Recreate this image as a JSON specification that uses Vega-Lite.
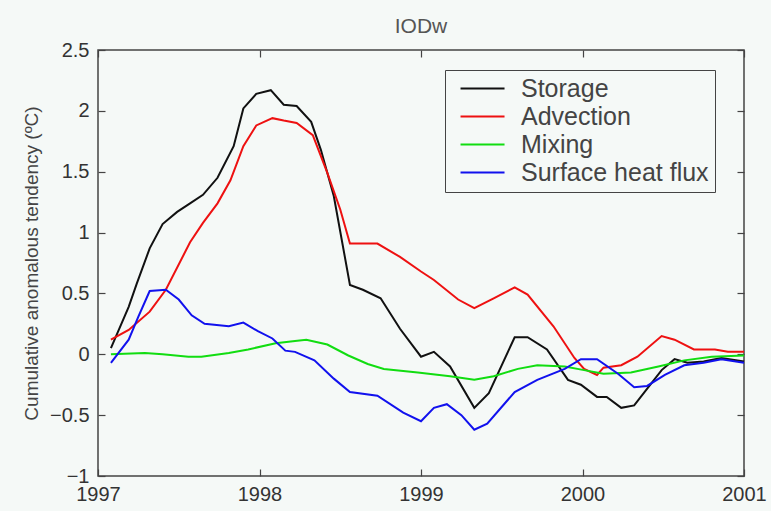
{
  "$schema": "https://vega.github.io/schema/vega-lite/v6.json",
  "width": 646,
  "height": 426,
  "autosize": "none",
  "padding": {"left": 98, "top": 50, "right": 27, "bottom": 35},
  "background": "#f5f9f7",
  "title": {"text": "IODw", "fontSize": 21, "font": "Liberation Sans", "fontWeight": "normal", "color": "#555", "offset": 3},
  "config": {
    "view": {"stroke": "#444", "strokeWidth": 1.5},
    "axis": {"domain": false, "grid": false, "labelFont": "Liberation Sans", "titleFont": "Liberation Sans", "labelColor": "#333", "titleColor": "#444", "tickColor": "#444", "tickWidth": 1.2, "labelFlush": false}
  },
  "data": {"values": [
    {"series": "Storage", "t": 1997.08, "v": 0.05},
    {"series": "Storage", "t": 1997.19, "v": 0.39},
    {"series": "Storage", "t": 1997.24, "v": 0.58},
    {"series": "Storage", "t": 1997.32, "v": 0.87},
    {"series": "Storage", "t": 1997.40, "v": 1.07},
    {"series": "Storage", "t": 1997.49, "v": 1.17},
    {"series": "Storage", "t": 1997.57, "v": 1.24},
    {"series": "Storage", "t": 1997.65, "v": 1.31},
    {"series": "Storage", "t": 1997.74, "v": 1.45},
    {"series": "Storage", "t": 1997.84, "v": 1.71},
    {"series": "Storage", "t": 1997.90, "v": 2.02},
    {"series": "Storage", "t": 1997.98, "v": 2.14},
    {"series": "Storage", "t": 1998.07, "v": 2.17},
    {"series": "Storage", "t": 1998.15, "v": 2.05},
    {"series": "Storage", "t": 1998.23, "v": 2.04},
    {"series": "Storage", "t": 1998.32, "v": 1.91},
    {"series": "Storage", "t": 1998.38, "v": 1.68},
    {"series": "Storage", "t": 1998.46, "v": 1.30},
    {"series": "Storage", "t": 1998.56, "v": 0.57},
    {"series": "Storage", "t": 1998.64, "v": 0.53},
    {"series": "Storage", "t": 1998.75, "v": 0.46},
    {"series": "Storage", "t": 1998.87, "v": 0.21},
    {"series": "Storage", "t": 1999.00, "v": -0.02},
    {"series": "Storage", "t": 1999.08, "v": 0.02},
    {"series": "Storage", "t": 1999.18, "v": -0.10},
    {"series": "Storage", "t": 1999.33, "v": -0.44},
    {"series": "Storage", "t": 1999.42, "v": -0.32},
    {"series": "Storage", "t": 1999.58, "v": 0.14},
    {"series": "Storage", "t": 1999.66, "v": 0.14},
    {"series": "Storage", "t": 1999.78, "v": 0.04},
    {"series": "Storage", "t": 1999.91, "v": -0.21},
    {"series": "Storage", "t": 1999.99, "v": -0.25},
    {"series": "Storage", "t": 2000.09, "v": -0.35},
    {"series": "Storage", "t": 2000.15, "v": -0.35},
    {"series": "Storage", "t": 2000.24, "v": -0.44},
    {"series": "Storage", "t": 2000.32, "v": -0.42},
    {"series": "Storage", "t": 2000.42, "v": -0.25},
    {"series": "Storage", "t": 2000.49, "v": -0.13},
    {"series": "Storage", "t": 2000.57, "v": -0.04},
    {"series": "Storage", "t": 2000.65, "v": -0.07},
    {"series": "Storage", "t": 2000.75, "v": -0.06},
    {"series": "Storage", "t": 2000.86, "v": -0.03},
    {"series": "Storage", "t": 2001.00, "v": -0.06},
    {"series": "Advection", "t": 1997.08, "v": 0.12},
    {"series": "Advection", "t": 1997.19, "v": 0.20},
    {"series": "Advection", "t": 1997.32, "v": 0.35},
    {"series": "Advection", "t": 1997.42, "v": 0.53},
    {"series": "Advection", "t": 1997.57, "v": 0.92},
    {"series": "Advection", "t": 1997.65, "v": 1.08},
    {"series": "Advection", "t": 1997.74, "v": 1.24},
    {"series": "Advection", "t": 1997.82, "v": 1.43},
    {"series": "Advection", "t": 1997.90, "v": 1.71},
    {"series": "Advection", "t": 1997.98, "v": 1.88},
    {"series": "Advection", "t": 1998.08, "v": 1.94},
    {"series": "Advection", "t": 1998.15, "v": 1.92},
    {"series": "Advection", "t": 1998.23, "v": 1.90},
    {"series": "Advection", "t": 1998.33, "v": 1.80},
    {"series": "Advection", "t": 1998.42, "v": 1.49},
    {"series": "Advection", "t": 1998.50, "v": 1.19},
    {"series": "Advection", "t": 1998.56, "v": 0.91},
    {"series": "Advection", "t": 1998.73, "v": 0.91},
    {"series": "Advection", "t": 1998.87, "v": 0.80},
    {"series": "Advection", "t": 1999.00, "v": 0.68},
    {"series": "Advection", "t": 1999.08, "v": 0.61},
    {"series": "Advection", "t": 1999.23, "v": 0.45},
    {"series": "Advection", "t": 1999.33, "v": 0.38},
    {"series": "Advection", "t": 1999.45, "v": 0.46},
    {"series": "Advection", "t": 1999.58, "v": 0.55},
    {"series": "Advection", "t": 1999.66, "v": 0.49},
    {"series": "Advection", "t": 1999.82, "v": 0.23},
    {"series": "Advection", "t": 1999.95, "v": -0.03},
    {"series": "Advection", "t": 2000.01, "v": -0.12},
    {"series": "Advection", "t": 2000.09, "v": -0.17},
    {"series": "Advection", "t": 2000.13, "v": -0.11},
    {"series": "Advection", "t": 2000.24, "v": -0.09},
    {"series": "Advection", "t": 2000.34, "v": -0.02},
    {"series": "Advection", "t": 2000.49, "v": 0.15},
    {"series": "Advection", "t": 2000.57, "v": 0.12},
    {"series": "Advection", "t": 2000.69, "v": 0.04},
    {"series": "Advection", "t": 2000.82, "v": 0.04},
    {"series": "Advection", "t": 2000.90, "v": 0.02},
    {"series": "Advection", "t": 2001.00, "v": 0.02},
    {"series": "Mixing", "t": 1997.08, "v": 0.00},
    {"series": "Mixing", "t": 1997.29, "v": 0.01},
    {"series": "Mixing", "t": 1997.40, "v": 0.00},
    {"series": "Mixing", "t": 1997.56, "v": -0.02},
    {"series": "Mixing", "t": 1997.64, "v": -0.02},
    {"series": "Mixing", "t": 1997.81, "v": 0.01},
    {"series": "Mixing", "t": 1997.93, "v": 0.04},
    {"series": "Mixing", "t": 1998.10, "v": 0.09},
    {"series": "Mixing", "t": 1998.22, "v": 0.11},
    {"series": "Mixing", "t": 1998.29, "v": 0.12},
    {"series": "Mixing", "t": 1998.42, "v": 0.08},
    {"series": "Mixing", "t": 1998.55, "v": -0.01},
    {"series": "Mixing", "t": 1998.67, "v": -0.08},
    {"series": "Mixing", "t": 1998.77, "v": -0.12},
    {"series": "Mixing", "t": 1998.98, "v": -0.15},
    {"series": "Mixing", "t": 1999.18, "v": -0.18},
    {"series": "Mixing", "t": 1999.33, "v": -0.21},
    {"series": "Mixing", "t": 1999.45, "v": -0.18},
    {"series": "Mixing", "t": 1999.60, "v": -0.12},
    {"series": "Mixing", "t": 1999.72, "v": -0.09},
    {"series": "Mixing", "t": 1999.89, "v": -0.10},
    {"series": "Mixing", "t": 2000.01, "v": -0.13},
    {"series": "Mixing", "t": 2000.13, "v": -0.16},
    {"series": "Mixing", "t": 2000.30, "v": -0.15},
    {"series": "Mixing", "t": 2000.47, "v": -0.10},
    {"series": "Mixing", "t": 2000.63, "v": -0.05},
    {"series": "Mixing", "t": 2000.80, "v": -0.02},
    {"series": "Mixing", "t": 2001.00, "v": -0.01},
    {"series": "Surface heat flux", "t": 1997.08, "v": -0.07},
    {"series": "Surface heat flux", "t": 1997.19, "v": 0.12},
    {"series": "Surface heat flux", "t": 1997.25, "v": 0.31},
    {"series": "Surface heat flux", "t": 1997.32, "v": 0.52},
    {"series": "Surface heat flux", "t": 1997.42, "v": 0.53},
    {"series": "Surface heat flux", "t": 1997.50, "v": 0.45},
    {"series": "Surface heat flux", "t": 1997.58, "v": 0.32},
    {"series": "Surface heat flux", "t": 1997.66, "v": 0.25},
    {"series": "Surface heat flux", "t": 1997.81, "v": 0.23},
    {"series": "Surface heat flux", "t": 1997.90, "v": 0.26},
    {"series": "Surface heat flux", "t": 1997.99, "v": 0.19},
    {"series": "Surface heat flux", "t": 1998.08, "v": 0.13},
    {"series": "Surface heat flux", "t": 1998.16, "v": 0.03},
    {"series": "Surface heat flux", "t": 1998.22, "v": 0.02},
    {"series": "Surface heat flux", "t": 1998.34, "v": -0.05},
    {"series": "Surface heat flux", "t": 1998.46, "v": -0.20},
    {"series": "Surface heat flux", "t": 1998.56, "v": -0.31},
    {"series": "Surface heat flux", "t": 1998.73, "v": -0.34},
    {"series": "Surface heat flux", "t": 1998.89, "v": -0.48},
    {"series": "Surface heat flux", "t": 1999.00, "v": -0.55},
    {"series": "Surface heat flux", "t": 1999.08, "v": -0.44},
    {"series": "Surface heat flux", "t": 1999.16, "v": -0.41},
    {"series": "Surface heat flux", "t": 1999.25, "v": -0.50},
    {"series": "Surface heat flux", "t": 1999.33, "v": -0.62},
    {"series": "Surface heat flux", "t": 1999.41, "v": -0.57},
    {"series": "Surface heat flux", "t": 1999.58, "v": -0.31},
    {"series": "Surface heat flux", "t": 1999.72, "v": -0.21},
    {"series": "Surface heat flux", "t": 1999.89, "v": -0.12},
    {"series": "Surface heat flux", "t": 1999.99, "v": -0.04},
    {"series": "Surface heat flux", "t": 2000.09, "v": -0.04},
    {"series": "Surface heat flux", "t": 2000.22, "v": -0.16},
    {"series": "Surface heat flux", "t": 2000.32, "v": -0.27},
    {"series": "Surface heat flux", "t": 2000.40, "v": -0.26},
    {"series": "Surface heat flux", "t": 2000.51, "v": -0.17},
    {"series": "Surface heat flux", "t": 2000.63, "v": -0.09},
    {"series": "Surface heat flux", "t": 2000.75, "v": -0.07},
    {"series": "Surface heat flux", "t": 2000.86, "v": -0.04},
    {"series": "Surface heat flux", "t": 2001.00, "v": -0.07}
  ]},
  "layer": [
    {
      "mark": {"type": "line", "strokeWidth": 2},
      "encoding": {
        "x": {"field": "t", "type": "quantitative", "scale": {"domain": [1997, 2001], "nice": false, "zero": false},
              "axis": {"values": [1997, 1998, 1999, 2000, 2001], "format": "d", "title": null, "labelFontSize": 20, "tickSize": -7, "labelPadding": 15}},
        "y": {"field": "v", "type": "quantitative", "scale": {"domain": [-1, 2.5], "nice": false},
              "axis": {"values": [-1, -0.5, 0, 0.5, 1, 1.5, 2, 2.5], "format": "~g", "title": "Cumulative anomalous tendency (ºC)", "titleFontSize": 19, "titleFontWeight": "normal", "labelFontSize": 20, "tickSize": -7, "labelPadding": 16, "titlePadding": 8}},
        "color": {"field": "series", "type": "nominal",
                  "scale": {"domain": ["Storage", "Advection", "Mixing", "Surface heat flux"], "range": ["#111111", "#ee1111", "#11dd11", "#1111ee"]},
                  "legend": {"title": null, "orient": "none", "legendX": 347, "legendY": 20, "strokeColor": "#444", "padding": 6, "symbolType": "M-0.27,0H3.73", "symbolSize": 484, "symbolStrokeWidth": 2, "labelFont": "Liberation Sans", "labelFontSize": 25, "labelLimit": 400, "labelColor": "#444", "rowPadding": 2, "labelOffset": 45}}
      }
    },
    {
      "mark": {"type": "line", "opacity": 0},
      "encoding": {
        "x": {"field": "t", "type": "quantitative", "axis": {"orient": "top", "values": [1997, 1998, 1999, 2000, 2001], "labels": false, "title": null, "tickSize": -7}},
        "y": {"field": "v", "type": "quantitative", "axis": {"orient": "right", "values": [-1, -0.5, 0, 0.5, 1, 1.5, 2, 2.5], "labels": false, "title": null, "tickSize": -7}},
        "detail": {"field": "series"}
      }
    }
  ],
  "resolve": {"axis": {"x": "independent", "y": "independent"}}
}
